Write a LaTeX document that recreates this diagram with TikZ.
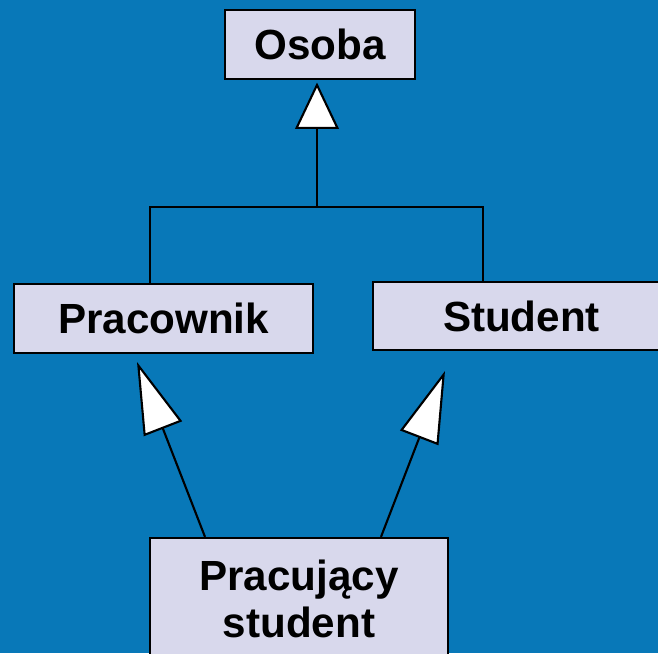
\documentclass[tikz,border=0pt]{standalone}
\usepackage{fontspec}
\setmainfont{Liberation Sans}
\usetikzlibrary{arrows.meta}

\definecolor{slideblue}{RGB}{8,120,184}
\definecolor{boxfill}{RGB}{216,216,236}

\tikzset{
  classbox/.style={draw=black, line width=1.6pt, fill=boxfill, inner sep=0pt,
    align=center, font=\fontsize{30}{33}\selectfont\bfseries},
  inherit/.style={line width=1.5pt, -{Triangle[fill=white, length=33pt, width=31pt]}},
  inheritlong/.style={line width=1.5pt, -{Triangle[fill=white, length=51pt, width=29pt]}}
}

\begin{document}
\begin{tikzpicture}
  % Background
  \fill[slideblue] (0, 0) rectangle (16.45, 16.325);
  \useasboundingbox (0, 0) rectangle (16.45, 16.325);

  % Classes
  \node[classbox, minimum width=4.75cm, minimum height=1.725cm] (osoba) at (8.0, 15.2125) {Osoba};
  \node[classbox, minimum width=7.475cm, minimum height=1.725cm] (pracownik) at (4.0875, 8.3625) {Pracownik};
  \node[classbox, minimum width=7.425cm, minimum height=1.7cm] (student) at (13.0375, 8.425) {Student};
  \node[classbox, minimum width=7.45cm, minimum height=3.05cm] (pracujacy) at (7.475, 1.35) {Pracujący\\student};

  % Shared generalization to Osoba
  \coordinate (junction) at (7.925, 11.15);
  \coordinate (lbranch) at (3.75, 11.15);
  \coordinate (rbranch) at (12.075, 11.15);
  \draw[line width=1.5pt] (pracownik.north -| lbranch) |- (rbranch) -- (student.north -| rbranch);
  \draw[inherit, shorten >=0.06cm] (junction) -- (osoba.south -| junction);

  % Pracujacy student inherits from both
  \coordinate (ltip) at (3.425, 7.275);
  \coordinate (rtip) at (11.125, 7.05);
  \coordinate (lstart) at (5.125, 0);
  \coordinate (rstart) at (9.525, 0);
  \draw[inheritlong] (pracujacy.north -| lstart) -- (ltip);
  \draw[inheritlong] (pracujacy.north -| rstart) -- (rtip);
\end{tikzpicture}
\end{document}
